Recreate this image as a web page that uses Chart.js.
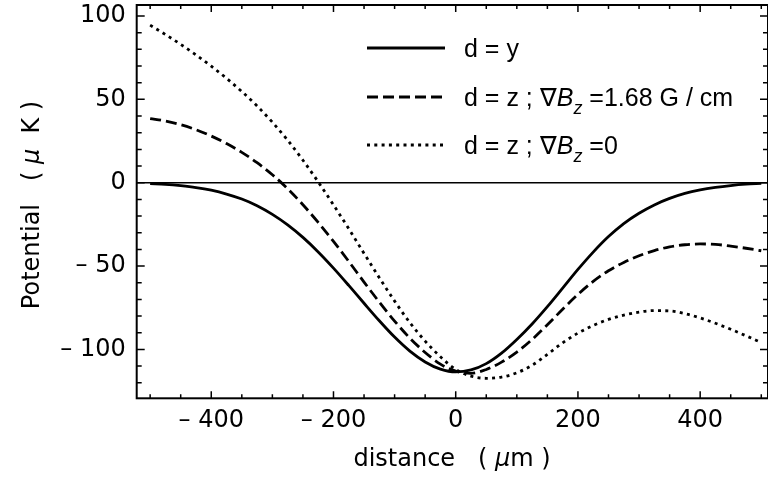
<!DOCTYPE html>
<html>
<head>
<meta charset="utf-8">
<script src="https://cdn.jsdelivr.net/npm/chart.js@4/dist/chart.umd.min.js"></script>
<style>
  html, body { margin: 0; padding: 0; background: #fff; }
  #wrap { width: 768px; height: 486px; position: relative; }
</style>
</head>
<body>
<div id="wrap"><canvas id="chart"></canvas></div>
<script>
// distance (um)
var distance = [-500, -475, -450, -425, -400, -375, -350, -325, -300, -275, -250, -225, -200, -175, -150, -125, -100, -75, -50, -25,
  0, 25, 50, 75, 100, 125, 150, 175, 200, 225, 250, 275, 300, 325, 350, 375, 400, 425, 450, 475, 500];

// potential (uK), d = y
var potY = [-0.5, -1.0, -1.8, -2.9, -4.5, -6.8, -9.8, -13.8, -19.0, -25.3, -32.8, -41.5, -51.2, -61.6, -72.3, -82.8, -92.6, -101.0, -107.5, -111.8,
  -113.5, -112.3, -108.5, -102.2, -94.0, -84.7, -74.3, -63.2, -52.0, -41.6, -32.3, -24.5, -18.3, -13.3, -9.4, -6.4, -4.3, -2.8, -1.7, -0.9, -0.4];

// d = z, grad Bz = 1.68 G/cm
var potZGrad = [38.5, 37.0, 34.8, 31.8, 28.0, 23.5, 18.2, 12.0, 4.8, -3.6, -13.2, -23.8, -35.2, -47.2, -59.6, -71.6, -83.0, -93.2, -101.8, -108.8,
  -113.0, -114.3, -112.0, -107.6, -101.6, -94.0, -85.2, -75.9, -67.0, -59.2, -52.8, -47.8, -43.8, -40.7, -38.5, -37.2, -36.7, -37.0, -38.0, -39.3, -40.8];

// d = z, grad Bz = 0
var potZ0 = [94.5, 88.9, 83.0, 76.7, 69.9, 62.6, 54.7, 46.0, 36.3, 25.5, 13.5, 0.5, -13.3, -27.6, -42.4, -57.0, -71.0, -83.9, -95.0, -104.4,
  -112.0, -116.0, -117.3, -116.6, -114.0, -109.5, -103.0, -96.0, -90.2, -85.6, -82.0, -79.4, -77.6, -76.7, -76.9, -78.5, -81.1, -84.3, -87.9, -91.8, -95.9];

var xTicks = [-400, -200, 0, 200, 400];
var yTicks = [-100, -50, 0, 50, 100];

var legendLabels = [
  [{ t: 'd = y' }],
  [{ t: 'd = z ; \u2207' }, { t: 'B', it: true }, { t: 'z', it: true, sub: true }, { t: ' =1.68 G / cm' }],
  [{ t: 'd = z ; \u2207' }, { t: 'B', it: true }, { t: 'z', it: true, sub: true }, { t: ' =0' }]
];

function pts(ys) { return distance.map(function (x, i) { return { x: x, y: ys[i] }; }); }

function richWidth(ctx, parts, size, family) {
  var w = 0;
  parts.forEach(function (p) {
    ctx.font = (p.it ? 'italic ' : '') + (p.sub ? Math.round(size * 0.7) : size) + 'px ' + family;
    w += ctx.measureText(p.t).width;
  });
  return w;
}

function drawRich(ctx, parts, x, y, size, family) {
  parts.forEach(function (p) {
    ctx.font = (p.it ? 'italic ' : '') + (p.sub ? Math.round(size * 0.7) : size) + 'px ' + family;
    ctx.fillText(p.t, x, y + (p.sub ? size * 0.3 : 0));
    x += ctx.measureText(p.t).width;
  });
}

function noPad(s) { s.paddingTop = 0; s.paddingBottom = 0; s.paddingLeft = 0; s.paddingRight = 0; }

var frame = {
  id: 'frame',
  afterDraw: function (chart) {
    var ctx = chart.ctx, a = chart.chartArea, sx = chart.scales.x, sy = chart.scales.y;
    ctx.save();
    ctx.strokeStyle = '#000';
    ctx.fillStyle = '#000';
    ctx.setLineDash([]);

    // inward ticks, all four sides
    ctx.lineWidth = 1.5;
    ctx.beginPath();
    for (var v = -500; v <= 500; v += 50) {
      var px = sx.getPixelForValue(v);
      var len = v % 200 === 0 ? 7 : 4;
      ctx.moveTo(px, a.bottom); ctx.lineTo(px, a.bottom - len);
      ctx.moveTo(px, a.top); ctx.lineTo(px, a.top + len);
    }
    for (var w = -120; w <= 100; w += 10) {
      var py = sy.getPixelForValue(w);
      var l2 = w % 50 === 0 ? 8 : 5;
      ctx.moveTo(a.left, py); ctx.lineTo(a.left + l2, py);
      ctx.moveTo(a.right, py); ctx.lineTo(a.right - l2, py);
    }
    ctx.stroke();

    ctx.lineWidth = 2;
    ctx.strokeRect(a.left, a.top, a.right - a.left, a.bottom - a.top);

    // legend
    var rows = [48, 97, 145];
    chart.data.datasets.forEach(function (ds, i) {
      if (!legendLabels[i]) return;
      ctx.lineWidth = ds.borderWidth;
      ctx.setLineDash(ds.borderDash || []);
      ctx.beginPath();
      ctx.moveTo(367, rows[i]); ctx.lineTo(445, rows[i]);
      ctx.stroke();
      ctx.setLineDash([]);
      ctx.textBaseline = 'alphabetic';
      ctx.textAlign = 'left';
      drawRich(ctx, legendLabels[i], 464, rows[i] + 9, 25, '"Liberation Sans", Arial, sans-serif');
    });

    // axis titles
    var fam = '"DejaVu Sans", sans-serif';
    var xt = [{ t: 'distance   ( ' }, { t: '\u03bc', it: true }, { t: 'm )' }];
    var xw = richWidth(ctx, xt, 24, fam);
    drawRich(ctx, xt, 452 - xw / 2, 466, 24, fam);

    var yt = [{ t: 'Potential   ( ' }, { t: '\u03bc', it: true }, { t: '  K )' }];
    var yw = richWidth(ctx, yt, 24, fam);
    ctx.translate(39, 205);
    ctx.rotate(-Math.PI / 2);
    drawRich(ctx, yt, -yw / 2, 0, 24, fam);
    ctx.restore();
  }
};

var line = { borderColor: '#000', borderWidth: 2.8, pointRadius: 0, fill: false, cubicInterpolationMode: 'monotone' };

new Chart(document.getElementById('chart'), {
  type: 'line',
  data: {
    datasets: [
      Object.assign({ label: 'd = y', data: pts(potY) }, line),
      Object.assign({ label: 'd = z; grad Bz = 1.68 G/cm', data: pts(potZGrad), borderDash: [11, 5] }, line),
      Object.assign({ label: 'd = z; grad Bz = 0', data: pts(potZ0), borderDash: [3, 4.3] }, line)
    ]
  },
  options: {
    responsive: true,
    maintainAspectRatio: false,
    animation: false,
    layout: { padding: { top: 5, right: 0, left: 0, bottom: 0 } },
    plugins: { legend: { display: false }, tooltip: { enabled: false } },
    scales: {
      x: {
        type: 'linear',
        min: -522,
        max: 511,
        afterBuildTicks: function (s) { s.ticks = xTicks.map(function (v) { return { value: v }; }); },
        afterFit: function (s) { s.height = 87.7; noPad(s); },
        grid: { display: false, drawTicks: false },
        border: { display: false },
        ticks: {
          color: '#000',
          padding: 8,
          maxRotation: 0,
          font: { family: '"DejaVu Sans", sans-serif', size: 24 },
          callback: function (v) { return v < 0 ? '\u2013 ' + Math.abs(v) : String(v); }
        }
      },
      y: {
        type: 'linear',
        min: -129.3,
        max: 106.6,
        afterBuildTicks: function (s) { s.ticks = yTicks.map(function (v) { return { value: v }; }); },
        afterFit: function (s) { s.width = 136.7; noPad(s); },
        grid: {
          drawTicks: false,
          lineWidth: 1.5,
          color: function (c) { return c.tick && c.tick.value === 0 ? '#000' : 'rgba(0,0,0,0)'; }
        },
        border: { display: false },
        ticks: {
          color: '#000',
          padding: 11,
          font: { family: '"DejaVu Sans", sans-serif', size: 24 },
          callback: function (v) { return v < 0 ? '\u2013 ' + Math.abs(v) : String(v); }
        }
      }
    }
  },
  plugins: [frame]
});
</script>
</body>
</html>
